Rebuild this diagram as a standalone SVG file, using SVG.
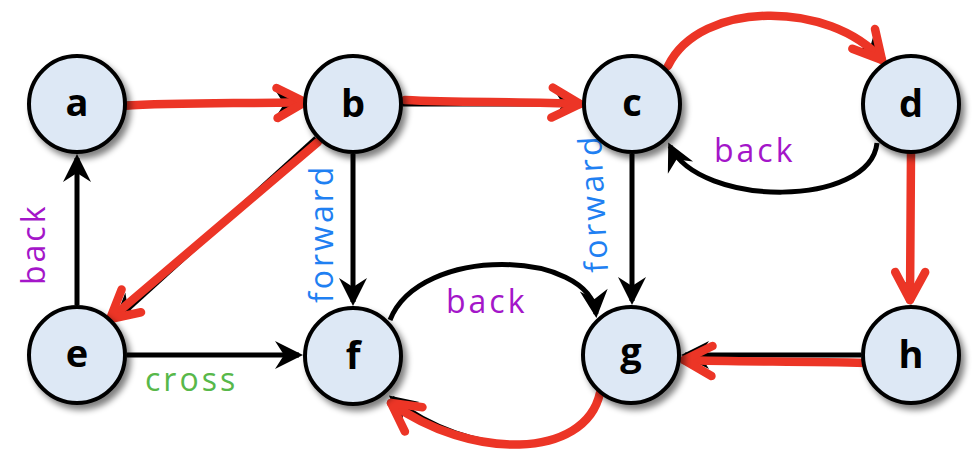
<svg xmlns="http://www.w3.org/2000/svg" width="972" height="455" viewBox="0 0 972 455">
<style>
.node circle{fill:#dde8f5;stroke:#000;stroke-width:4;filter:url(#sh)}
.node text{font-family:"Open Sans","Liberation Sans",sans-serif;font-weight:bold;font-size:38px;text-anchor:middle;fill:#000}
.blk{fill:none;stroke:#000;stroke-width:5;marker-end:url(#ah)}
.red{fill:none;stroke:#ec3526;stroke-width:8.5;stroke-linecap:round;stroke-linejoin:round;marker-end:url(#rh)}
.lbl{font-family:"Open Sans","Liberation Sans",sans-serif;font-size:32px;letter-spacing:3px}
.back{fill:#a416c9}
.fwd{fill:#1f80f2}
.cross{fill:#58b84a}
</style>
<defs>
<filter id="sh" x="-30%" y="-30%" width="170%" height="170%">
<feGaussianBlur in="SourceAlpha" stdDeviation="3"/>
<feOffset dx="4" dy="5" result="o"/>
<feComponentTransfer><feFuncA type="linear" slope="0.5"/></feComponentTransfer>
<feMerge><feMergeNode/><feMergeNode in="SourceGraphic"/></feMerge>
</filter>
<marker id="ah" markerUnits="userSpaceOnUse" viewBox="-30 -16 36 32" refX="0" refY="0" markerWidth="36" markerHeight="32" orient="auto" overflow="visible">
<path d="M4,0 L-24,-14 L-15,0 L-24,14 Z" fill="#000"/>
</marker>
<marker id="rh" markerUnits="userSpaceOnUse" viewBox="-30 -18 36 36" refX="0" refY="0" markerWidth="36" markerHeight="36" orient="auto" overflow="visible">
<path d="M-28,-15 L0,0 L-28,15" fill="none" stroke="#ec3526" stroke-width="8.5" stroke-linecap="round" stroke-linejoin="round"/>
</marker>
</defs>
<g id="connectors">
<path class="blk" d="M77,305 L77,158"/>
<path class="blk" d="M353,154 L353,302"/>
<path class="blk" d="M632,154 L632,301"/>
<path class="blk" d="M127,355 L299,355"/>
<path class="blk" d="M127,104 L299,104"/>
<path class="blk" d="M403,104 L578,104"/>
<path class="blk" d="M861,355 L685,355"/>
<path class="blk" d="M911,154 L911,301"/>
<path class="blk" d="M316,138 L117,319"/>
<path class="blk" d="M390,320 C420,244 590,250 596,314"/>
<path class="blk" d="M877,143 C870,208 700,208 670,146"/>
<path class="blk" d="M668,68 C700,0 830,0 880,58"/>
<path class="blk" d="M600,393 C585,460 470,460 392,398"/>
<path class="red" d="M123,106 C180,102 250,104 305,102"/>
<path class="red" d="M405,100 C460,103 520,101 580,104"/>
<path class="red" d="M318,142 L110,319"/>
<path class="red" d="M668,66 C700,0 830,0 882,60"/>
<path class="red" d="M911,153 L910,300"/>
<path class="red" d="M866,363 C800,361 740,362 684,360"/>
<path class="red" d="M600,393 C585,460 470,460 391,403"/>
<text class="lbl cross" x="145" y="391">cross</text>
<text class="lbl back" x="446" y="313">back</text>
<text class="lbl back" x="714" y="162">back</text>
<text class="lbl back" transform="translate(45,285) rotate(-90)">back</text>
<text class="lbl fwd" transform="translate(333,303) rotate(-90)">forward</text>
<text class="lbl fwd" transform="translate(608,272) rotate(-93)">forward</text>
</g>
<g id="a" class="node"><circle cx="77" cy="104" r="48"/><text x="77" y="116">a</text></g>
<g id="b" class="node"><circle cx="353" cy="104" r="48"/><text x="353" y="117">b</text></g>
<g id="c" class="node"><circle cx="632" cy="104" r="48"/><text x="632" y="116">c</text></g>
<g id="d" class="node"><circle cx="911" cy="104" r="48"/><text x="911" y="117">d</text></g>
<g id="e" class="node"><circle cx="77" cy="355" r="48"/><text x="77" y="367">e</text></g>
<g id="f" class="node"><circle cx="353" cy="356" r="48"/><text x="353" y="369">f</text></g>
<g id="g" class="node"><circle cx="631" cy="355" r="48"/><text x="631" y="365">g</text></g>
<g id="h" class="node"><circle cx="911" cy="355" r="48"/><text x="911" y="368">h</text></g>
</svg>
